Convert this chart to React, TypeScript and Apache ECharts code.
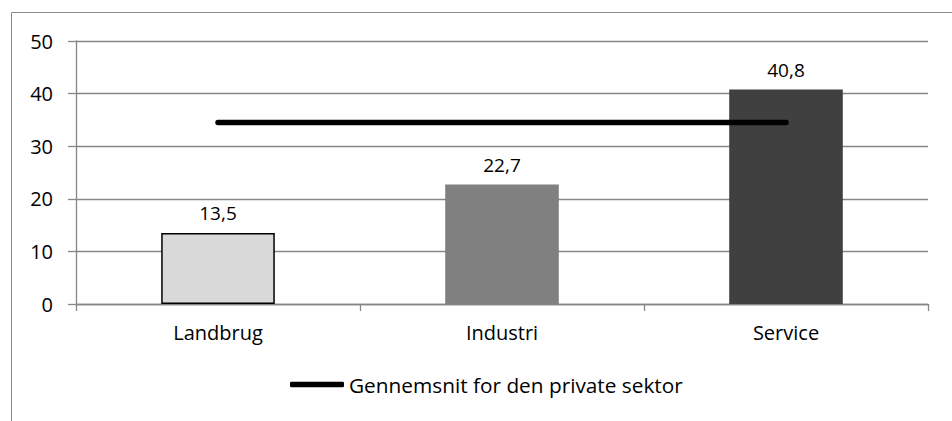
import React, { useEffect, useRef } from "react";
import * as echarts from "echarts";

const categories = ["Landbrug", "Industri", "Service"];
const barValues = [13.5, 22.7, 40.8];
const barColors = ["#d9d9d9", "#808080", "#404040"];
const averageValue = 34.5;
const averageName = "Gennemsnit for den private sektor";

const FONT = "'Open Sans', 'Liberation Sans', sans-serif";

export default function App() {
  const ref = useRef<HTMLDivElement>(null);
  useEffect(() => {
    document.body.style.margin = "0";
    if (!ref.current) return;
    const chart = echarts.init(ref.current, null, { renderer: "svg" });
    chart.setOption({
      animation: false,
      backgroundColor: "#ffffff",
      textStyle: { fontFamily: FONT },
      grid: { left: 76, right: 24, top: 41, bottom: 117, containLabel: false },
      graphic: [
        {
          type: "rect",
          shape: { x: 11.5, y: 12.5, width: 1200, height: 600 },
          style: { fill: "none", stroke: "#8a8a8a", lineWidth: 1 },
          silent: true,
        },
      ],
      legend: {
        data: [{ name: averageName, icon: "roundRect" }],
        left: 290,
        top: 374,
        itemWidth: 54,
        itemHeight: 5.5,
        itemGap: 10,
        itemStyle: { color: "#000" },
        textStyle: { fontFamily: FONT, fontSize: 20.8, color: "#000", padding: [0, 0, 0, 0] },
        padding: 0,
      },
      xAxis: {
        type: "category",
        data: categories,
        boundaryGap: true,
        axisLine: { show: true, lineStyle: { color: "#868686", width: 1.3 } },
        axisTick: { show: true, length: 7, lineStyle: { color: "#868686", width: 1.3 } },
        axisLabel: { color: "#000", fontSize: 20, fontFamily: FONT, margin: 18 },
        splitLine: { show: false },
      },
      yAxis: {
        type: "value",
        min: 0,
        max: 50,
        interval: 10,
        axisLine: { show: true, lineStyle: { color: "#868686", width: 1.3 } },
        axisTick: { show: true, length: 8, lineStyle: { color: "#868686", width: 1.3 } },
        axisLabel: { color: "#000", fontSize: 20, fontFamily: FONT, margin: 23 },
        splitLine: { show: true, lineStyle: { color: "#868686", width: 1.3 } },
      },
      series: [
        {
          type: "bar",
          name: "Værdi",
          barWidth: "40%",
          data: barValues.map((v, i) => ({
            value: v,
            itemStyle: {
              color: barColors[i],
              borderColor: i === 0 ? "#000" : barColors[i],
              borderWidth: i === 0 ? 1.5 : 0,
            },
          })),
          label: {
            show: true,
            position: "top",
            distance: 10,
            color: "#000",
            fontSize: 19,
            fontFamily: FONT,
            formatter: (p: any) => String(p.value).replace(".", ","),
          },
          z: 2,
        },
        {
          type: "line",
          name: averageName,
          data: categories.map(() => averageValue),
          symbol: "none",
          showSymbol: false,
          lineStyle: { color: "#000", width: 5.5, cap: "round" },
          itemStyle: { color: "#000" },
          z: 3,
        },
      ],
    });
    return () => chart.dispose();
  }, []);
  return <div ref={ref} style={{ width: 952, height: 421 }} />;
}
